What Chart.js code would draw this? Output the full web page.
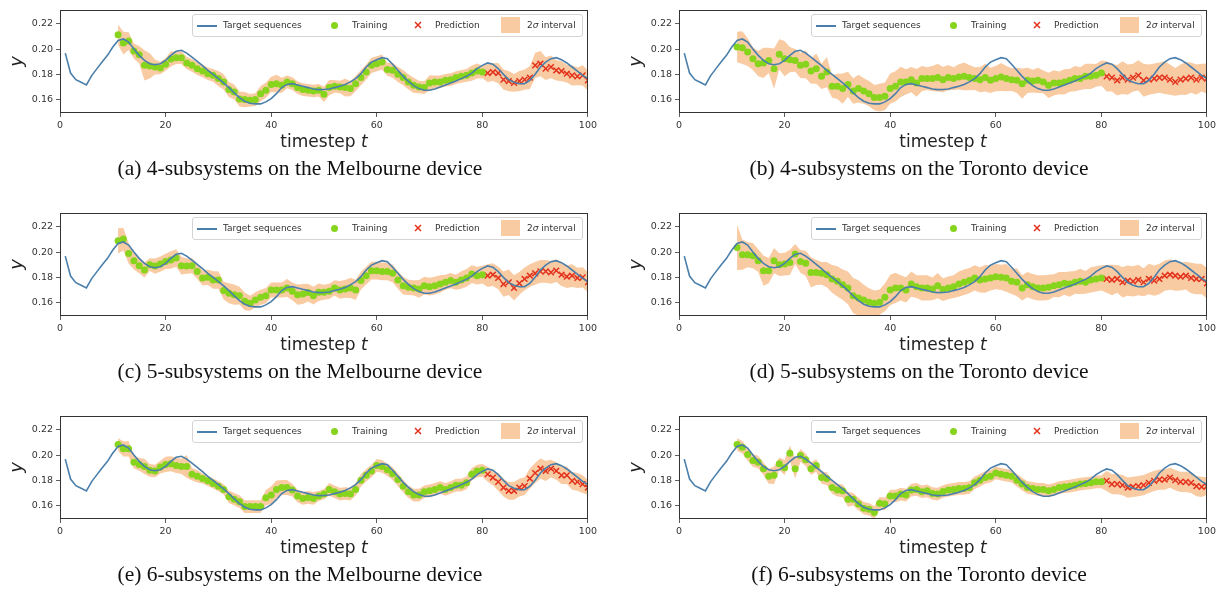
<!DOCTYPE html>
<html>
<head>
<meta charset="utf-8">
<script src="https://cdn.jsdelivr.net/npm/chart.js@4.4.0/dist/chart.umd.min.js"></script>
<style>
  body { margin: 0; background: #fff; width: 1228px; height: 589px; position: relative; overflow: hidden; }
  canvas.panel { position: absolute; }
  .xlab { position: absolute; font-family: "DejaVu Sans"; font-size: 17px; line-height: 20px; color: #222; white-space: nowrap; transform: translateX(-50%); }
  .cap { position: absolute; font-family: "Liberation Serif"; font-size: 21.5px; line-height: 24px; color: #111; white-space: nowrap; transform: translateX(-50%); }
  .legend { position: absolute; width: 389px; height: 21px; background: rgba(255,255,255,0.8); border: 1px solid #d4d4d4; border-radius: 3px; }
  .legend span { position: absolute; }
  .legend .t { font-family: "DejaVu Sans"; font-size: 9px; line-height: 21px; top: 0; color: #333; white-space: nowrap; }
  .legend .ln { left: 4px; top: 10px; width: 20px; height: 1.5px; }
  .legend .dot { left: 138px; top: 7px; width: 7px; height: 7px; border-radius: 50%; }
  .legend .pat { left: 308px; top: 2px; width: 19px; height: 16px; }
  .legend svg { position: absolute; left: 221px; top: 6px; }
</style>
</head>
<body>
<script>
// target sequence, t = 1..100 (same in every panel)
const target = [
  0.1968, 0.181, 0.1758, 0.1737, 0.1716, 0.179, 0.1845, 0.190, 0.195, 0.2016,
  0.2068, 0.208, 0.2055, 0.200, 0.195, 0.191, 0.1884, 0.1876, 0.1884, 0.191,
  0.195, 0.1982, 0.199, 0.1968, 0.1937, 0.1903, 0.1868, 0.1832, 0.180, 0.1766,
  0.1732, 0.1695, 0.1653, 0.1616, 0.1587, 0.1571, 0.1566, 0.1566, 0.1582, 0.1608,
  0.1647, 0.1695, 0.172, 0.1726, 0.1716, 0.1705, 0.1695, 0.1684, 0.1679, 0.168,
  0.1684, 0.1695, 0.1705, 0.172, 0.174, 0.1766, 0.1805, 0.1858, 0.1897, 0.1916,
  0.1932, 0.1924, 0.188, 0.1832, 0.1784, 0.1745, 0.171, 0.1687, 0.1674, 0.1674,
  0.1684, 0.170, 0.1716, 0.1732, 0.1747, 0.1766, 0.1784, 0.181, 0.1845, 0.1871,
  0.189, 0.188, 0.1845, 0.180, 0.1758, 0.1737, 0.1726, 0.1726, 0.1753, 0.180,
  0.1858, 0.1897, 0.1924, 0.1932, 0.1916, 0.189, 0.1858, 0.1826, 0.1792, 0.1766
];

// training points t = 11..80, prediction points t = 81..100
const trainA = [
  0.2113, 0.2047, 0.2063, 0.1984, 0.1955, 0.1871, 0.1866, 0.1858, 0.185, 0.1879,
  0.1921, 0.1932, 0.1932, 0.189, 0.1871, 0.1845, 0.1826, 0.1805, 0.1792, 0.1766,
  0.174, 0.1679, 0.166, 0.1605, 0.160, 0.1595, 0.160, 0.1647, 0.1674, 0.172,
  0.1726, 0.1713, 0.174, 0.1726, 0.1695, 0.1679, 0.1674, 0.1668, 0.1674, 0.1642,
  0.1695, 0.1705, 0.170, 0.1695, 0.1687, 0.1726, 0.1774, 0.1818, 0.1871, 0.1884,
  0.1897, 0.1839, 0.1832, 0.180, 0.1774, 0.174, 0.1713, 0.170, 0.1695, 0.1732,
  0.174, 0.174, 0.1753, 0.1758, 0.1774, 0.1784, 0.1792, 0.181, 0.1826, 0.1818
];
const predA = [0.181, 0.1818, 0.181, 0.1758, 0.1747, 0.1732, 0.1747, 0.1758, 0.1774, 0.1871,
  0.1884, 0.1845, 0.1858, 0.1832, 0.1826, 0.1805, 0.1792, 0.1784, 0.1792, 0.1753];

const trainB = [
  0.2016, 0.2011, 0.1976, 0.1924, 0.1884, 0.189, 0.191, 0.1845, 0.1958, 0.1924,
  0.1916, 0.191, 0.1871, 0.1879, 0.1826, 0.1845, 0.1784, 0.1818, 0.1705, 0.1705,
  0.1687, 0.172, 0.1668, 0.1687, 0.1668, 0.1647, 0.1616, 0.1616, 0.1626, 0.1687,
  0.1705, 0.174, 0.174, 0.1758, 0.1732, 0.1766, 0.1766, 0.1766, 0.1774, 0.1758,
  0.1774, 0.1766, 0.1779, 0.1784, 0.1774, 0.1766, 0.1758, 0.1774, 0.1753, 0.1766,
  0.1779, 0.1766, 0.1758, 0.1753, 0.1726, 0.1753, 0.1747, 0.1753, 0.174, 0.1713,
  0.1732, 0.1732, 0.174, 0.1753, 0.1766, 0.1766, 0.1784, 0.1784, 0.1792, 0.181
];
const predB = [0.1784, 0.1774, 0.1753, 0.1774, 0.1758, 0.1774, 0.1792, 0.1753, 0.1758, 0.1766,
  0.1774, 0.1774, 0.1758, 0.174, 0.1758, 0.1766, 0.1774, 0.1758, 0.1774, 0.1766];

const trainC = [
  0.2089, 0.2103, 0.1989, 0.1932, 0.1892, 0.1858, 0.19, 0.1889, 0.1905, 0.1926,
  0.1937, 0.1953, 0.1892, 0.1889, 0.1892, 0.1847, 0.1795, 0.18, 0.1779, 0.1779,
  0.1695, 0.1674, 0.1663, 0.1655, 0.161, 0.1595, 0.1621, 0.1642, 0.1655, 0.17,
  0.17, 0.17, 0.1716, 0.1689, 0.1663, 0.1668, 0.1679, 0.1655, 0.1682, 0.1682,
  0.1689, 0.1716, 0.17, 0.1708, 0.1716, 0.17, 0.1774, 0.1813, 0.1853, 0.1853,
  0.1847, 0.1847, 0.1832, 0.1779, 0.1734, 0.1721, 0.1716, 0.1708, 0.1734, 0.1726,
  0.1734, 0.1747, 0.1761, 0.1774, 0.1761, 0.1779, 0.1795, 0.1826, 0.1813, 0.1821
];
const predC = [0.1813, 0.1821, 0.1795, 0.1747, 0.1761, 0.1716, 0.1753, 0.1787, 0.1813, 0.1832,
  0.1847, 0.1847, 0.1839, 0.1853, 0.1821, 0.1805, 0.1813, 0.1795, 0.18, 0.1761];

const trainD = [
  0.2037, 0.1979, 0.1979, 0.1971, 0.1932, 0.1853, 0.1853, 0.1932, 0.19, 0.1905,
  0.1918, 0.1984, 0.1926, 0.1911, 0.1839, 0.1839, 0.1832, 0.1821, 0.1787, 0.1768,
  0.1742, 0.1716, 0.1655, 0.1637, 0.1621, 0.1603, 0.1595, 0.1603, 0.1642, 0.17,
  0.1716, 0.1716, 0.17, 0.1747, 0.1726, 0.1716, 0.1716, 0.1708, 0.1734, 0.1703,
  0.1716, 0.1726, 0.1747, 0.1761, 0.1774, 0.1795, 0.1779, 0.1787, 0.1795, 0.1805,
  0.18, 0.1795, 0.1768, 0.1761, 0.1716, 0.1742, 0.1726, 0.1716, 0.1716, 0.1721,
  0.1734, 0.1742, 0.1753, 0.1747, 0.1761, 0.1768, 0.1761, 0.1779, 0.1787, 0.1795
];
const predD = [0.1787, 0.1779, 0.1787, 0.1761, 0.1774, 0.1768, 0.1779, 0.1761, 0.1787, 0.1774,
  0.1787, 0.1813, 0.1821, 0.1813, 0.1805, 0.1813, 0.1795, 0.1787, 0.1787, 0.1753];

const trainE = [
  0.2083, 0.2049, 0.2049, 0.1944, 0.1926, 0.191, 0.1879, 0.1874, 0.1905, 0.1926,
  0.1931, 0.1918, 0.191, 0.191, 0.1848, 0.1832, 0.1814, 0.1796, 0.1775, 0.1754,
  0.1728, 0.167, 0.165, 0.1631, 0.1592, 0.1592, 0.1592, 0.1592, 0.1663, 0.1683,
  0.1728, 0.1743, 0.1743, 0.1723, 0.1676, 0.1657, 0.1665, 0.1657, 0.1676, 0.1691,
  0.1728, 0.171, 0.1691, 0.1696, 0.1691, 0.1728, 0.1801, 0.184, 0.1874, 0.1918,
  0.191, 0.1884, 0.1853, 0.1806, 0.1754, 0.171, 0.1683, 0.1683, 0.171, 0.1717,
  0.1728, 0.1743, 0.1728, 0.1743, 0.1762, 0.1762, 0.178, 0.1848, 0.1874, 0.1879
];
const predE = [0.1848, 0.1822, 0.1788, 0.1743, 0.1717, 0.1717, 0.1743, 0.1754, 0.1814, 0.1858,
  0.1892, 0.1874, 0.1892, 0.1874, 0.184, 0.184, 0.1796, 0.1788, 0.177, 0.1743];

const trainF = [
  0.2083, 0.2062, 0.2004, 0.1957, 0.1944, 0.1892, 0.1832, 0.184, 0.1931, 0.19,
  0.2015, 0.1892, 0.1997, 0.1963, 0.1892, 0.1918, 0.1822, 0.1814, 0.1743, 0.1723,
  0.1717, 0.165, 0.165, 0.1613, 0.1579, 0.1571, 0.1545, 0.1618, 0.1613, 0.1676,
  0.1676, 0.1691, 0.1683, 0.1723, 0.1728, 0.171, 0.1717, 0.1696, 0.1691, 0.1712,
  0.1723, 0.1728, 0.1736, 0.1736, 0.1743, 0.178, 0.1801, 0.1822, 0.1832, 0.1858,
  0.1848, 0.184, 0.1832, 0.1801, 0.177, 0.1743, 0.1736, 0.1728, 0.1728, 0.1717,
  0.1728, 0.1743, 0.1749, 0.1754, 0.1762, 0.177, 0.1775, 0.178, 0.1788, 0.1788
];
const predF = [0.1796, 0.177, 0.177, 0.1762, 0.1743, 0.1749, 0.1754, 0.1762, 0.178, 0.1796,
  0.1806, 0.1806, 0.1822, 0.1801, 0.1788, 0.1788, 0.178, 0.1754, 0.1749, 0.1754];

// 2-sigma half width (in units of 0.001), t = 11..100
const sigA = [8,9,7,6,7,12,10,6,5,5, 6,5,5,5,5,5,5,5,5,6, 6,6,6,6,6,5,5,6,6,6, 7,6,5,5,5,5,5,5,5,6,
  6,5,5,7,6,6,6,6,6,6, 6,5,6,6,6,6,6,5,5,6, 5,5,5,5,5,5,5,6,6,5, 7,7,8,8,8,7,8,8,9,10, 10,9,9,8,8,7,8,7,8,8];
const sigB = [12,13,11,9,10,12,10,16,12,14, 10,9,10,11,10,12,10,12,9,10, 12,10,10,11,10,10,10,11,11,12,
  12,12,10,10,11,10,9,10,11,10, 10,9,10,11,10,9,10,11,10,10, 11,10,9,10,12,10,9,10,9,10,
  10,9,10,9,10,9,10,10,9,10, 12,11,12,13,12,11,12,13,12,12, 12,13,12,11,12,13,12,12,11,12];
const sigC = [10,9,8,7,6,6,5,6,6,6, 7,7,7,6,6,6,6,6,7,7, 7,8,8,7,7,6,6,6,6,6, 6,6,7,7,8,8,7,7,7,6,
  6,6,7,7,8,8,7,7,7,7, 7,7,7,7,7,6,6,7,7,7, 7,7,6,6,6,7,7,7,7,7, 9,9,9,10,10,10,9,9,9,9, 9,9,9,9,9,9,9,8,8,8];
const sigD = [18,12,10,10,9,12,10,10,9,9, 10,8,9,10,12,10,9,10,11,12, 12,13,14,14,12,11,10,10,11,12,
  12,10,10,10,9,10,10,9,10,9, 9,9,10,10,10,10,10,11,10,10, 10,11,10,11,10,10,10,10,10,10,
  9,10,9,10,9,10,9,10,10,10, 11,12,11,12,12,12,12,11,12,12, 12,12,12,12,11,11,12,12,12,12];
const sigE = [5,6,6,5,5,6,5,5,5,6, 6,6,6,9,5,5,4,4,4,4, 4,5,5,5,5,5,5,5,6,7, 7,6,6,5,5,5,5,5,4,4,
  5,5,5,5,5,5,5,5,5,5, 5,5,5,5,5,5,5,5,5,5, 5,5,5,5,5,5,5,5,5,5, 6,6,7,7,7,7,7,7,8,8, 8,8,7,7,7,7,7,7,7,6];
const sigF = [5,5,5,5,5,5,6,7,5,6, 6,8,5,5,5,5,5,5,5,5, 5,6,5,5,5,5,5,5,5,5, 5,5,5,5,5,5,5,5,5,5,
  5,5,5,5,5,5,5,5,5,5, 5,5,5,5,5,5,5,5,5,5, 5,5,5,5,5,5,5,5,5,5, 8,8,8,8,8,8,8,8,8,8, 8,8,8,8,8,8,8,8,8,7];

const xTicks = [0, 20, 40, 60, 80, 100];
const yTicks = [0.16, 0.18, 0.20, 0.22];
const captions = [
  "(a) 4-subsystems on the Melbourne device",
  "(b) 4-subsystems on the Toronto device",
  "(c) 5-subsystems on the Melbourne device",
  "(d) 5-subsystems on the Toronto device",
  "(e) 6-subsystems on the Melbourne device",
  "(f) 6-subsystems on the Toronto device"
];

const BLUE = "#4a7fab", GREEN = "#86d41c", RED = "#e2321c", PEACH = "#f9cba3";

const panels = [
  { train: trainA, pred: predA, sig: sigA },
  { train: trainB, pred: predB, sig: sigB },
  { train: trainC, pred: predC, sig: sigC },
  { train: trainD, pred: predD, sig: sigD },
  { train: trainE, pred: predE, sig: sigE },
  { train: trainF, pred: predF, sig: sigF }
];

// frame round the plot area, like matplotlib spines
const frame = {
  id: "frame",
  afterDatasetsDraw(chart) {
    const a = chart.chartArea, ctx = chart.ctx;
    ctx.save();
    ctx.strokeStyle = "#333";
    ctx.lineWidth = 1;
    ctx.strokeRect(Math.round(a.left) + 0.5, Math.round(a.top) + 0.5,
      Math.round(a.right - a.left) - 1, Math.round(a.bottom - a.top) - 1);
    ctx.restore();
  }
};

function addLegend(left, top) {
  const box = document.createElement("div");
  box.className = "legend";
  box.style.left = left + "px";
  box.style.top = top + "px";
  box.innerHTML =
    '<span class="ln" style="background:' + BLUE + '"></span>' +
    '<span class="t" style="left:30px">Target sequences</span>' +
    '<span class="dot" style="background:' + GREEN + '"></span>' +
    '<span class="t" style="left:159px">Training</span>' +
    '<svg width="8" height="8"><path d="M1 1L7 7M7 1L1 7" stroke="' + RED + '" stroke-width="1.5"/></svg>' +
    '<span class="t" style="left:242px">Prediction</span>' +
    '<span class="pat" style="background:' + PEACH + '"></span>' +
    '<span class="t" style="left:334px">2<i>σ</i> interval</span>';
  document.body.appendChild(box);
}

function addText(cls, html, cx, top) {
  const d = document.createElement("div");
  d.className = cls;
  d.innerHTML = html;
  d.style.left = cx + "px";
  d.style.top = top + "px";
  document.body.appendChild(d);
}

panels.forEach((p, k) => {
  const col = k % 2, row = Math.floor(k / 2);
  const left = col === 0 ? 0 : 619;
  const top = row * 203;

  const canvas = document.createElement("canvas");
  canvas.className = "panel";
  canvas.width = 600;
  canvas.height = 133;
  canvas.style.left = left + "px";
  canvas.style.top = top + "px";
  document.body.appendChild(canvas);

  const mean = p.train.concat(p.pred);
  const upper = mean.map((v, i) => ({ x: i + 11, y: v + p.sig[i] * 0.001 }));
  const lower = mean.map((v, i) => ({ x: i + 11, y: v - p.sig[i] * 0.001 }));

  new Chart(canvas, {
    type: "line",
    data: {
      datasets: [
        { label: "Target sequences", data: target.map((v, i) => ({ x: i + 1, y: v })),
          borderColor: BLUE, borderWidth: 1.6, pointRadius: 0, tension: 0, order: 0, clip: 0 },
        { label: "Training", data: p.train.map((v, i) => ({ x: i + 11, y: v })),
          showLine: false, pointStyle: "circle", pointRadius: 3.5, pointBorderWidth: 0,
          pointBackgroundColor: GREEN, order: 1, clip: 0 },
        { label: "Prediction", data: p.pred.map((v, i) => ({ x: i + 81, y: v })),
          showLine: false, pointStyle: "crossRot", pointRadius: 4, pointBorderWidth: 1.5,
          pointBorderColor: RED, order: 1, clip: 0 },
        { label: "upper", data: upper, borderWidth: 0, pointRadius: 0, fill: false, order: 2, clip: 0 },
        { label: "2σ interval", data: lower, borderWidth: 0, pointRadius: 0, fill: "-1",
          backgroundColor: PEACH, order: 2, clip: 0 }
      ]
    },
    options: {
      animation: false,
      responsive: false,
      devicePixelRatio: 1,
      layout: { padding: { top: 10, right: 12, left: 0, bottom: 0 } },
      plugins: { legend: { display: false }, tooltip: { enabled: false } },
      scales: {
        x: {
          type: "linear", min: 0, max: 100,
          afterBuildTicks: s => { s.ticks = xTicks.map(v => ({ value: v })); },
          afterFit: s => { s.height = 20; },
          grid: { drawOnChartArea: false, drawTicks: true, tickLength: 4, color: "#333", lineWidth: 0.8 },
          border: { display: false },
          ticks: { font: { family: "DejaVu Sans", size: 9.5 }, color: "#333", padding: 3, maxRotation: 0, autoSkip: false }
        },
        y: {
          min: 0.1494, max: 0.2309,
          afterBuildTicks: s => { s.ticks = yTicks.map(v => ({ value: v })); },
          afterFit: s => { s.width = 60; },
          grid: { drawOnChartArea: false, drawTicks: true, tickLength: 4, color: "#333", lineWidth: 0.8 },
          border: { display: false },
          title: { display: true, text: "y", color: "#222",
            font: { family: "DejaVu Sans", size: 18, style: "italic" }, padding: { top: 7, bottom: 0 } },
          ticks: { font: { family: "DejaVu Sans", size: 9.5 }, color: "#333", padding: 3,
            callback: v => v.toFixed(2) }
        }
      }
    },
    plugins: [frame]
  });

  addLegend(left + 192, top + 14);
  addText("xlab", "timestep <i>t</i>", left + 324, top + 131);
  addText("cap", captions[k], left + 300, top + 156);
});
</script>
</body>
</html>
